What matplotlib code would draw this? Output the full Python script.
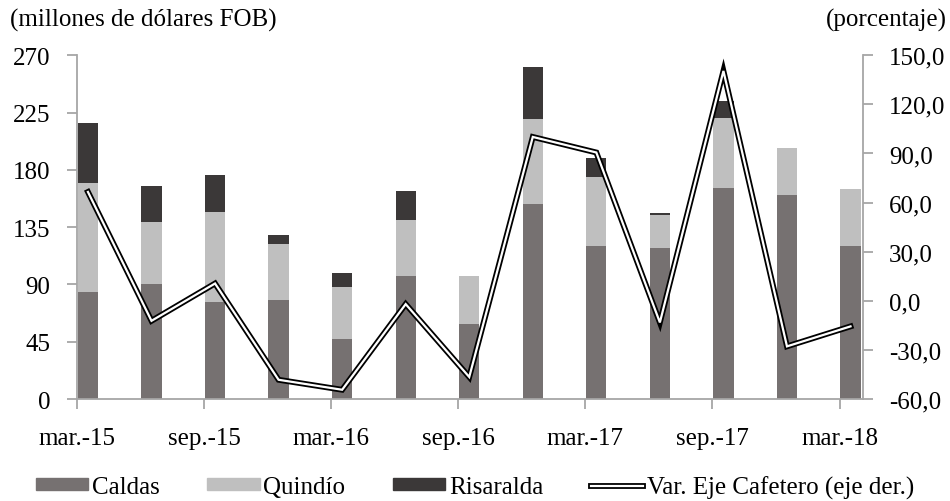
import matplotlib
matplotlib.use("Agg")
import matplotlib.pyplot as plt
import numpy as np
from matplotlib.patches import Patch
from matplotlib.lines import Line2D

# Exportaciones trimestrales por departamento (millones de dólares FOB)
periodos = ["mar.-15", "jun.-15", "sep.-15", "dic.-15", "mar.-16", "jun.-16", "sep.-16",
            "dic.-16", "mar.-17", "jun.-17", "sep.-17", "dic.-17", "mar.-18"]
caldas = [84, 90, 76, 78, 47, 96.5, 59, 153, 120, 118.5, 166, 160, 120]
quindio = [86, 49, 71, 44, 41, 44, 38, 67, 54, 26, 55, 37, 45]
risaralda = [47, 28, 29, 7, 11, 23, 0, 41, 15, 1.5, 13, 0, 0]
# variación anual del Eje Cafetero (%)
var_eje = [66.5, -12.2, 10.6, -48.2, -54.3, -2.0, -46.5, 100.1, 90.6, -13.2, 140.4, -27.8, -15.6]

col_caldas = "#767171"
col_quindio = "#bfbfbf"
col_risaralda = "#3b3838"
col_axis = "#a6a6a6"

plt.rcParams["font.family"] = ["Liberation Serif", "DejaVu Serif"]
plt.rcParams["font.size"] = 18

fig = plt.figure(figsize=(9.5, 5.02), dpi=100)
ax = fig.add_axes([0.081, 0.203, 0.827, 0.685])
ax2 = ax.twinx()

x = np.arange(len(periodos))
w = 0.32
caldas = np.array(caldas)
quindio = np.array(quindio)
risaralda = np.array(risaralda)

ax.bar(x, caldas, w, color=col_caldas, zorder=2)
ax.bar(x, quindio, w, bottom=caldas, color=col_quindio, zorder=2)
ax.bar(x, risaralda, w, bottom=caldas + quindio, color=col_risaralda, zorder=2)

# linea doble: negra por fuera, blanca por dentro
ax2.plot(x, var_eje, color="black", lw=4.2, solid_joinstyle="miter", zorder=3)
ax2.plot(x, var_eje, color="white", lw=1.6, solid_joinstyle="miter", zorder=4)

ax.set_xlim(-0.173, 12.19)
ax.set_ylim(0, 270)
ax.set_yticks(np.arange(0, 271, 45))
ax2.set_ylim(-60, 150)
ax2.set_yticks(np.arange(-60, 151, 30))
ax2.set_yticklabels([f"{v:.1f}".replace(".", ",") for v in np.arange(-60, 151, 30)])

ax.set_xticks(x[::2] - 0.173)
ax.set_xticklabels(periodos[::2])

for a in (ax, ax2):
    for s in a.spines.values():
        s.set_visible(False)
    a.tick_params(axis="both", colors=col_axis, labelcolor="black", length=7, width=1.3)
ax.spines["left"].set_visible(True)
ax.spines["bottom"].set_visible(True)
ax2.spines["right"].set_visible(True)
for s in (ax.spines["left"], ax.spines["bottom"], ax2.spines["right"]):
    s.set_color(col_axis)
    s.set_linewidth(1.3)
ax.tick_params(axis="x", pad=13)
ax.tick_params(axis="y", pad=12)
ax2.tick_params(axis="y", pad=12)

fig.text(0.011, 0.96, "(millones de dólares FOB)", ha="left", va="center", fontsize=18)
fig.text(0.997, 0.96, "(porcentaje)", ha="right", va="center", fontsize=18)

handles = [
    Patch(color=col_caldas),
    Patch(color=col_quindio),
    Patch(color=col_risaralda),
    (Line2D([], [], color="black", lw=4.2), Line2D([], [], color="white", lw=1.6)),
]
labels = ["Caldas", "Quindío", "Risaralda", "Var. Eje Cafetero (eje der.)"]
fig.legend(handles, labels, loc="center", bbox_to_anchor=(0.5, 0.028), ncol=4,
           frameon=False, handlelength=2.1, handleheight=0.36, handletextpad=0.15,
           columnspacing=1.9, fontsize=18)

fig.savefig("out.png", dpi=100)
